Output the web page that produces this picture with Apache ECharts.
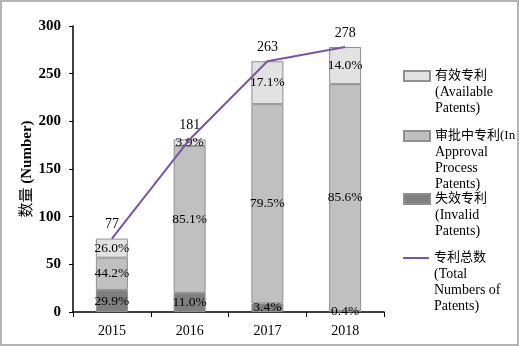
<!DOCTYPE html>
<html>
<head>
<meta charset="utf-8">
<script src="https://cdn.jsdelivr.net/npm/echarts@6/dist/echarts.min.js"></script>
<style>
  html, body { margin: 0; padding: 0; background: #fff; }
  #chart { width: 519px; height: 346px; box-sizing: border-box; border: 2px solid #b4b4b4; }
</style>
</head>
<body>
<div id="chart"></div>
<script>
const years = ["2015", "2016", "2017", "2018"];
// counts per segment
const invalid = [23, 20, 9, 1];
const approval = [34, 154, 209, 238];
const available = [20, 7, 45, 39];
const totals = [77, 181, 263, 278];
// percentage labels as printed
const invalidPct = ["29.9%", "11.0%", "3.4%", "0.4%"];
const approvalPct = ["44.2%", "85.1%", "79.5%", "85.6%"];
const availablePct = ["26.0%", "3.9%", "17.1%", "14.0%"];

const names = [
  "有效专利\n(Available\nPatents)",
  "审批中专利(In\nApproval\nProcess\nPatents)",
  "失效专利\n(Invalid\nPatents)",
  "专利总数\n(Total\nNumbers of\nPatents)"
];

const font = "'Liberation Serif', 'Noto Sans CJK SC', serif";

var chart = echarts.init(document.getElementById("chart"));

function pctLabel(arr) {
  return {
    show: true,
    position: "inside",
    color: "#000",
    fontFamily: font,
    fontSize: 13.5,
    formatter: function (p) { return arr[p.dataIndex]; }
  };
}

function barSeries(name, data, color, pct) {
  return {
    type: "bar",
    name: name,
    stack: "total",
    data: data,
    barWidth: 32,
    itemStyle: { color: color, borderColor: "#8f8f8f", borderWidth: 1 },
    label: pctLabel(pct)
  };
}

// one legend per item; blank lines on top keep the icon on the first text line
function legendItem(name, top, opts) {
  return Object.assign({
    data: [{ name: name }],
    left: 401,
    top: top,
    padding: 0,
    icon: "rect",
    itemWidth: 26,
    itemHeight: 10,
    selectedMode: false,
    formatter: function (n) {
      var lines = n.split("\n");
      var pad = new Array(lines.length).join("\n");
      return pad + "{c|" + lines[0] + "}\n" + lines.slice(1).join("\n");
    },
    textStyle: {
      color: "#000",
      fontFamily: font,
      fontSize: 14,
      lineHeight: 16,
      rich: {
        c: { fontFamily: font, fontSize: 13, lineHeight: 16, color: "#000" }
      }
    }
  }, opts || {});
}

var option = {
  animation: false,
  grid: { left: 71, right: 133, top: 24, bottom: 32 },
  legend: [
    legendItem(names[0], 34),
    legendItem(names[1], 78),
    legendItem(names[2], 157),
    legendItem(names[3], 200, { itemHeight: 2 })
  ],
  xAxis: {
    type: "category",
    data: years,
    axisLine: { lineStyle: { color: "#000", width: 1.5 } },
    axisTick: { show: true, alignWithLabel: false, length: 5, lineStyle: { color: "#000" } },
    axisLabel: { color: "#000", fontFamily: font, fontSize: 14, margin: 12 }
  },
  yAxis: {
    type: "value",
    min: 0,
    max: 300,
    interval: 50,
    name: "{a|数量} {b|(Number)}",
    nameLocation: "middle",
    nameGap: 38,
    nameMoveOverlap: false,
    nameTextStyle: {
      color: "#000",
      fontFamily: font,
      fontSize: 15,
      rich: {
        a: { fontFamily: font, fontSize: 15, color: "#000" },
        b: { fontFamily: font, fontSize: 15, fontWeight: "bold", color: "#000" }
      }
    },
    axisLine: { show: true, lineStyle: { color: "#000", width: 1.5 } },
    axisTick: { show: true, length: 4, lineStyle: { color: "#000" } },
    axisLabel: { color: "#000", fontFamily: font, fontSize: 15, fontWeight: "bold", margin: 12 },
    splitLine: { show: false }
  },
  series: [
    barSeries(names[2], invalid, "#7f7f7f", invalidPct),
    barSeries(names[1], approval, "#c0c0c0", approvalPct),
    barSeries(names[0], available, "#e2e2e2", availablePct),
    {
      type: "line",
      name: names[3],
      data: totals,
      symbol: "circle",
      symbolSize: 0,
      lineStyle: { color: "#7b54a6", width: 2 },
      itemStyle: { color: "#7b54a6" },
      label: {
        show: true,
        position: "top",
        distance: 7,
        color: "#000",
        fontFamily: font,
        fontSize: 14
      },
      z: 5
    }
  ]
};

chart.setOption(option);
</script>
</body>
</html>
